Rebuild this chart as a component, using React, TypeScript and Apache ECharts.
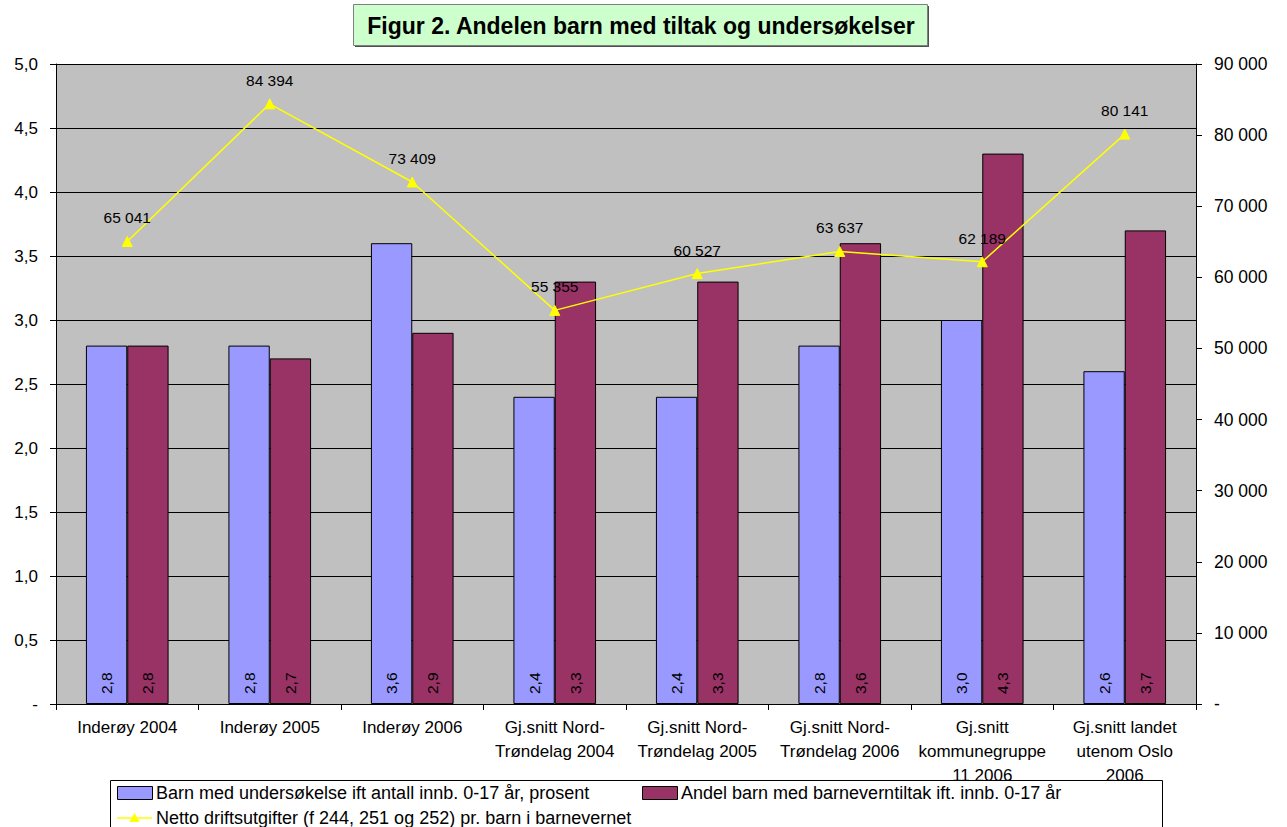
import React, { useEffect, useRef } from "react";
import * as echarts from "echarts";

const categories = [
  "Inderøy 2004",
  "Inderøy 2005",
  "Inderøy 2006",
  "Gj.snitt Nord-\nTrøndelag 2004",
  "Gj.snitt Nord-\nTrøndelag 2005",
  "Gj.snitt Nord-\nTrøndelag 2006",
  "Gj.snitt\nkommunegruppe\n11 2006",
  "Gj.snitt landet\nutenom Oslo\n2006",
];
const undersokelse = [2.8, 2.8, 3.6, 2.4, 2.4, 2.8, 3.0, 2.6];
const tiltak = [2.8, 2.7, 2.9, 3.3, 3.3, 3.6, 4.3, 3.7];
const driftsutgifter = [65041, 84394, 73409, 55355, 60527, 63637, 62189, 80141];

const seriesNames = [
  "Barn med undersøkelse ift antall innb. 0-17 år, prosent",
  "Andel barn med barneverntiltak ift. innb. 0-17 år",
  "Netto driftsutgifter (f 244, 251 og 252) pr. barn i barnevernet",
];
const titleText = "Figur 2. Andelen barn med tiltak og undersøkelser";

const FONT = "'Liberation Sans', Arial, sans-serif";
const fmtComma = (v: number) => (v === 0 ? "-" : v.toFixed(1).replace(".", ","));
const fmtThousands = (v: number) =>
  v === 0 ? "-" : String(Math.round(v)).replace(/\B(?=(\d{3})+(?!\d))/g, " ");

export default function App() {
  const ref = useRef<HTMLDivElement>(null);
  useEffect(() => {
    document.body.style.margin = "0";
    const chart = echarts.init(ref.current!, null, { renderer: "svg" });
    const barLabel = {
      show: true,
      position: "insideBottom",
      rotate: 90,
      align: "left",
      verticalAlign: "middle",
      distance: 10,
      color: "#000",
      fontSize: 15.5,
      fontFamily: FONT,
      formatter: (p: any) => fmtComma(p.value),
    };
    chart.setOption({
      animation: false,
      backgroundColor: "#fff",
      grid: { left: 56, right: 91, top: 64, bottom: 123, show: true, backgroundColor: "#C0C0C0", borderWidth: 0 },
      xAxis: {
        type: "category",
        data: categories,
        axisLine: { lineStyle: { color: "#000", width: 1 } },
        axisTick: { show: true, alignWithLabel: false, length: 6, lineStyle: { color: "#000" } },
        axisLabel: { color: "#000", fontSize: 17, fontFamily: FONT, lineHeight: 24, margin: 11, interval: 0 },
      },
      yAxis: [
        {
          type: "value",
          min: 0,
          max: 5,
          interval: 0.5,
          axisLine: { show: true, lineStyle: { color: "#000" } },
          axisTick: { show: true, length: 6, lineStyle: { color: "#000" } },
          splitLine: { show: true, lineStyle: { color: "#000", width: 1 } },
          axisLabel: { color: "#000", fontSize: 17, fontFamily: FONT, margin: 18, formatter: fmtComma },
        },
        {
          type: "value",
          min: 0,
          max: 90000,
          interval: 10000,
          position: "right",
          axisLine: { show: true, lineStyle: { color: "#000" } },
          axisTick: { show: true, length: 6, lineStyle: { color: "#000" } },
          splitLine: { show: false },
          axisLabel: { color: "#000", fontSize: 17.5, fontFamily: FONT, margin: 18, formatter: fmtThousands },
        },
      ],
      series: [
        {
          name: seriesNames[0],
          type: "bar",
          data: undersokelse,
          barGap: "0%",
          barCategoryGap: "42%",
          itemStyle: { color: "#9999FF", borderColor: "#000", borderWidth: 1 },
          label: barLabel,
        },
        {
          name: seriesNames[1],
          type: "bar",
          data: tiltak,
          itemStyle: { color: "#993366", borderColor: "#000", borderWidth: 1 },
          label: barLabel,
        },
        {
          name: seriesNames[2],
          type: "line",
          yAxisIndex: 1,
          data: driftsutgifter,
          symbol: "triangle",
          symbolSize: 10,
          lineStyle: { color: "#FFFF00", width: 1.5 },
          itemStyle: { color: "#FFFF00", borderColor: "#FFFF00" },
          label: {
            show: true,
            position: "top",
            distance: 10,
            color: "#000",
            fontSize: 15.5,
            fontFamily: FONT,
            formatter: (p: any) => fmtThousands(p.value),
          },
          z: 5,
        },
      ],
      graphic: [
        {
          type: "group",
          z: 100,
          children: [
            { type: "rect", shape: { x: 355, y: 6, width: 574, height: 41 }, style: { fill: "#505050" }, z: 100 },
            { type: "rect", shape: { x: 353.5, y: 4.5, width: 574, height: 41 }, style: { fill: "#CCFFCC", stroke: "#808080", lineWidth: 1 }, z: 101 },
            {
              type: "text",
              x: 641,
              y: 26,
              z: 102,
              style: { text: titleText, fill: "#000", font: `bold 23px ${FONT}`, align: "center", verticalAlign: "middle" },
            },
            { type: "rect", shape: { x: 110.5, y: 780.5, width: 1052, height: 60 }, style: { fill: "#fff", stroke: "#000", lineWidth: 1 }, z: 100 },
            { type: "rect", shape: { x: 117.5, y: 786.5, width: 35, height: 13 }, style: { fill: "#9999FF", stroke: "#000", lineWidth: 1 }, z: 101 },
            {
              type: "text", x: 156, y: 793, z: 101,
              style: { text: seriesNames[0], fill: "#000", font: `18px ${FONT}`, verticalAlign: "middle" },
            },
            { type: "rect", shape: { x: 642.5, y: 786.5, width: 35, height: 13 }, style: { fill: "#993366", stroke: "#000", lineWidth: 1 }, z: 101 },
            {
              type: "text", x: 681, y: 793, z: 101,
              style: { text: seriesNames[1], fill: "#000", font: `18px ${FONT}`, verticalAlign: "middle" },
            },
            { type: "line", shape: { x1: 117, y1: 818, x2: 152, y2: 818 }, style: { stroke: "#FFFF00", lineWidth: 1.5 }, z: 101 },
            { type: "polygon", shape: { points: [[134.5, 813], [139.5, 822], [129.5, 822]] }, style: { fill: "#FFFF00" }, z: 102 },
            {
              type: "text", x: 156, y: 818, z: 101,
              style: { text: seriesNames[2], fill: "#000", font: `18px ${FONT}`, verticalAlign: "middle" },
            },
          ],
        },
      ],
    });
    return () => chart.dispose();
  }, []);
  return <div ref={ref} style={{ width: 1287, height: 827 }} />;
}
